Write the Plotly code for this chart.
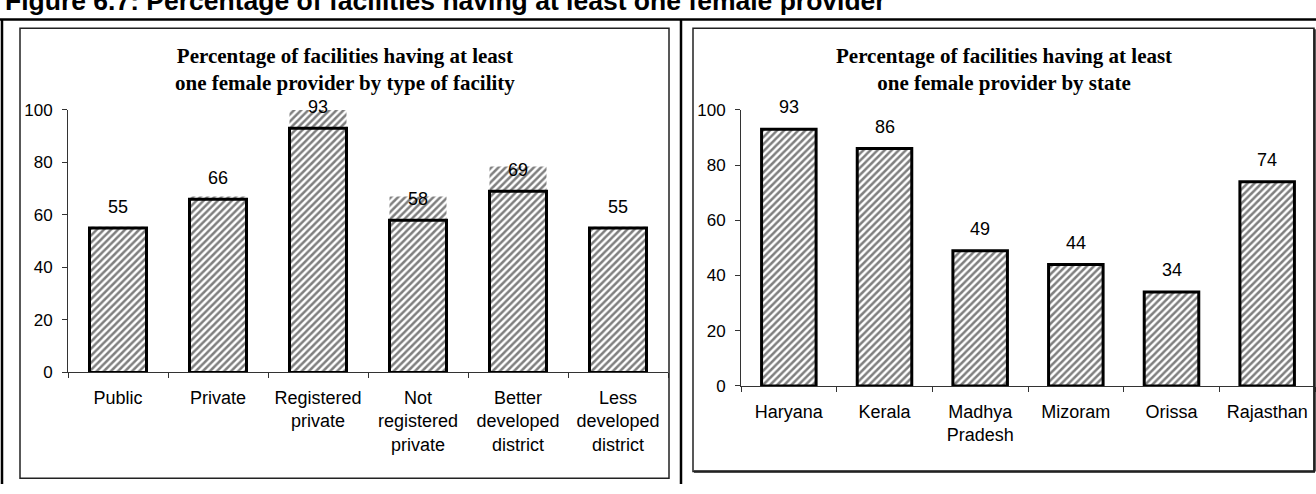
import plotly.graph_objects as go

W, H = 1316, 494

# ---------------- data ----------------
facility_types = ["Public", "Private", "Registered<br>private", "Not<br>registered<br>private",
                  "Better<br>developed<br>district", "Less<br>developed<br>district"]
facility_values = [55, 66, 93, 58, 69, 55]
# faint hatched "ghost" extension visible above some bars in the scanned original
facility_ghost = [55.5, 67, 100.5, 67, 78.5, 55.5]

states = ["Haryana", "Kerala", "Madhya<br>Pradesh", "Mizoram", "Orissa", "Rajasthan"]
state_values = [93, 86, 49, 44, 34, 74]

y_ticks = [0, 20, 40, 60, 80, 100]

header = "Figure 6.7: Percentage of facilities having at least one female provider"
title_left = "Percentage of facilities having at least<br>one female provider by type of facility"
title_right = "Percentage of facilities having at least<br>one female provider by state"

SANS = "Arial, Liberation Sans, sans-serif"
SERIF = "Times New Roman, Liberation Serif, serif"


def px(x):
    return x / W


def py(y):
    return 1 - y / H


hatch = dict(shape="/", fgcolor="black", bgcolor="white", size=5, solidity=0.5)

fig = go.Figure()

# ghost layer (left panel)
fig.add_trace(go.Bar(x=facility_types, y=facility_ghost, xaxis="x", yaxis="y",
                     marker=dict(color="white", pattern=hatch, line=dict(width=0)),
                     hoverinfo="skip", showlegend=False))
fig.add_trace(go.Bar(x=facility_types, y=facility_values, xaxis="x", yaxis="y",
                     marker=dict(color="white", pattern=hatch, line=dict(color="black", width=3)),
                     showlegend=False))
fig.add_trace(go.Bar(x=states, y=state_values, xaxis="x2", yaxis="y2",
                     marker=dict(color="white", pattern=hatch, line=dict(color="black", width=3)),
                     showlegend=False))

# data labels
ann = []
for c, v in zip(facility_types, facility_values):
    ann.append(dict(x=c, y=v, xref="x", yref="y", text=str(v), showarrow=False,
                    yanchor="middle", yshift=21, font=dict(family=SANS, size=18, color="black")))
for c, v in zip(states, state_values):
    ann.append(dict(x=c, y=v, xref="x2", yref="y2", text=str(v), showarrow=False,
                    yanchor="middle", yshift=22, font=dict(family=SANS, size=18, color="black")))

ann.append(dict(x=px(3), y=py(9), xref="paper", yref="paper", text="<b>" + header + "</b>",
                showarrow=False, xanchor="left", yanchor="bottom",
                font=dict(family=SANS, size=26.5, color="black")))
ann.append(dict(x=px(345), y=py(63), xref="paper", yref="paper", text="<b>" + title_left + "</b>",
                showarrow=False, xanchor="center", yanchor="middle",
                font=dict(family=SERIF, size=21, color="black")))
ann.append(dict(x=px(1004), y=py(63), xref="paper", yref="paper", text="<b>" + title_right + "</b>",
                showarrow=False, xanchor="center", yanchor="middle",
                font=dict(family=SERIF, size=21, color="black")))

axis_common = dict(showgrid=False, zeroline=False, showline=True, linecolor="#333", linewidth=1,
                   ticks="outside", ticklen=5, tickcolor="#333", mirror=False)

shapes = [
    # outer frame
    dict(type="line", xref="paper", yref="paper", x0=0, x1=1, y0=py(11), y1=py(11),
         line=dict(color="black", width=2.5)),
    dict(type="line", xref="paper", yref="paper", x0=px(2), x1=px(2), y0=py(11), y1=0,
         line=dict(color="black", width=2.5)),
    dict(type="line", xref="paper", yref="paper", x0=px(681), x1=px(681), y0=py(11), y1=0,
         line=dict(color="black", width=2.5)),
    # inner chart boxes
    dict(type="rect", xref="paper", yref="paper", x0=px(20), x1=px(669), y0=py(488), y1=py(20),
         line=dict(color="#222", width=1.5)),
    dict(type="rect", xref="paper", yref="paper", x0=px(693), x1=px(1314), y0=py(481), y1=py(20),
         line=dict(color="#222", width=1.5)),
    dict(type="line", xref="paper", yref="paper", x0=px(694), x1=px(1315), y0=py(481), y1=py(481),
         line=dict(color="#222", width=2.5)),
    dict(type="line", xref="paper", yref="paper", x0=px(1314.5), x1=px(1314.5), y0=py(481), y1=py(21),
         line=dict(color="#222", width=2.5)),
]

fig.update_layout(
    width=W, height=H, margin=dict(l=0, r=0, t=0, b=0),
    paper_bgcolor="white", plot_bgcolor="rgba(0,0,0,0)",
    barmode="overlay", bargap=0.43,
    showlegend=False,
    annotations=ann, shapes=shapes,
    xaxis=dict(domain=[px(68), px(668)], anchor="y", tickson="boundaries",
               tickfont=dict(family=SANS, size=18, color="black"), ticklabelstandoff=9,
               **axis_common),
    yaxis=dict(domain=[py(378), py(105)], anchor="x", range=[0, 100], tickvals=y_ticks,
               tickfont=dict(family=SANS, size=17, color="black"), ticklabelstandoff=6,
               **axis_common),
    xaxis2=dict(domain=[px(741), px(1315)], anchor="y2", tickson="boundaries",
                tickfont=dict(family=SANS, size=18, color="black"), ticklabelstandoff=9,
                **axis_common),
    yaxis2=dict(domain=[py(392), py(105)], anchor="x2", range=[0, 100], tickvals=y_ticks,
                tickfont=dict(family=SANS, size=17, color="black"), ticklabelstandoff=6,
                **axis_common),
)

fig.write_html("out.html")
